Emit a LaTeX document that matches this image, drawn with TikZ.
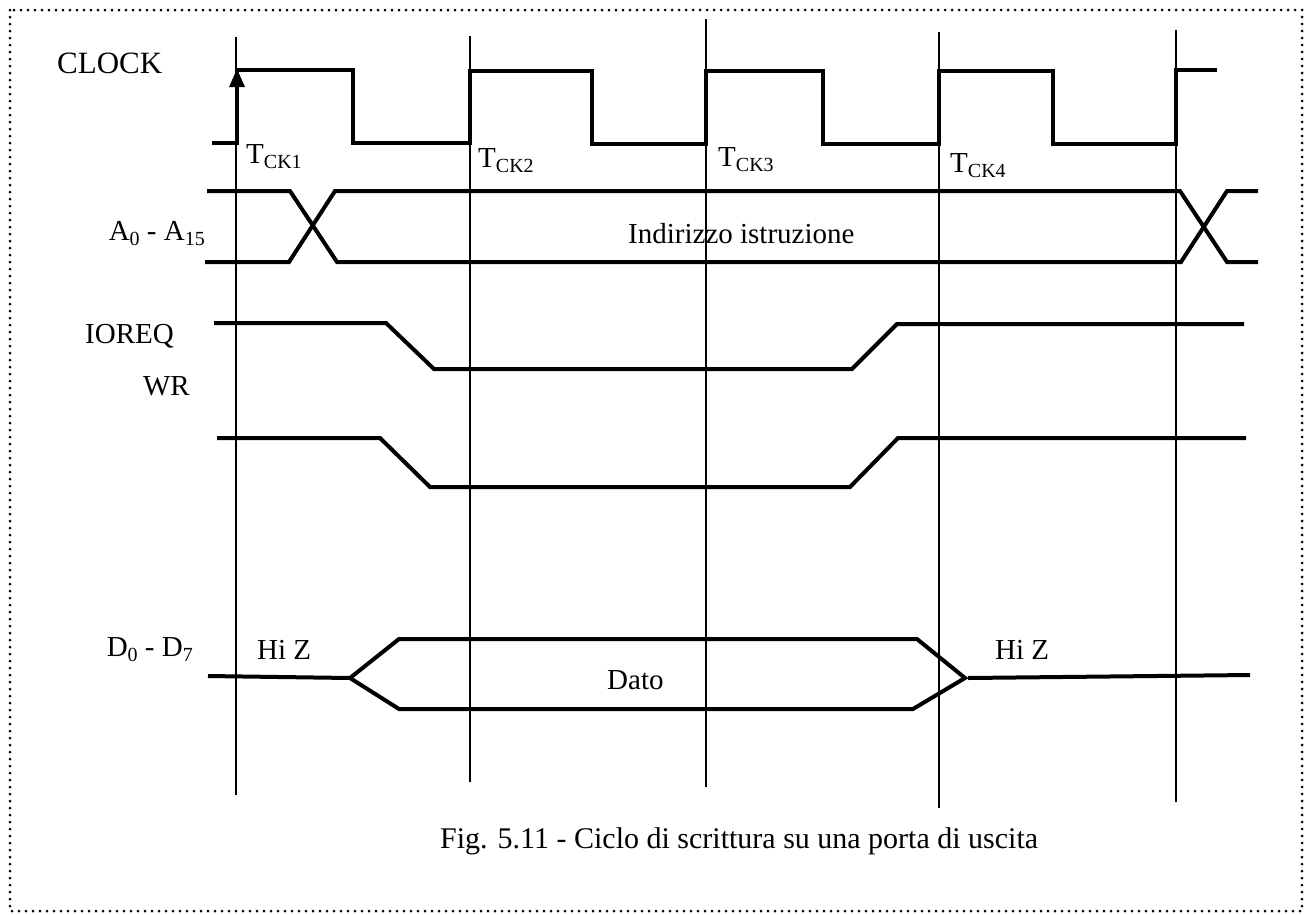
\documentclass[tikz,border=0pt]{standalone}
\usepackage{fontspec}
\setmainfont{Liberation Serif}
\usetikzlibrary{arrows.meta}
\newcommand\tsub[1]{\raisebox{-0.2em}{\fontsize{20}{20}\selectfont #1}}
\begin{document}
\begin{tikzpicture}[x=1pt,y=-1pt,
  sig/.style={line width=4pt, line join=miter},
  vgrid/.style={line width=1.5pt},
  lbl/.style={anchor=base west, inner sep=0pt, font=\fontsize{29}{29}\selectfont},
  rlbl/.style={anchor=base east, inner sep=0pt, font=\fontsize{29}{29}\selectfont}]
\useasboundingbox (0,0) rectangle (1310,914);
\draw[line width=3pt, dash pattern=on 0pt off 7pt, line cap=round] (10,10) rectangle (1302,911);
% vertical time markers
\draw[vgrid] (236,37) -- (236,795);
\draw[vgrid] (470,36) -- (470,782);
\draw[vgrid] (706,19) -- (706,787);
\draw[vgrid] (939,32) -- (939,808);
\draw[vgrid] (1176,30) -- (1176,802);
% clock
\draw[sig] (212,143) -- (237,143) -- (237,70) -- (353,70) -- (353,143) -- (470,143) -- (470,71) -- (592,71) -- (592,144) -- (706,144) -- (706,71) -- (823,71) -- (823,144) -- (939,144) -- (939,71) -- (1053,71) -- (1053,144) -- (1176,144) -- (1176,70) -- (1217,70);
\fill (237,69) -- (245,87) -- (229,87) -- cycle;
% address bus
\draw[sig] (207,191) -- (290,191) -- (337,262) -- (1181,262) -- (1227,191) -- (1258,191);
\draw[sig] (205,262) -- (289,262) -- (335,191) -- (1180,191) -- (1227,262) -- (1258,262);
% IOREQ
\draw[sig] (214,323) -- (386,323) -- (434,369) -- (852,369) -- (897,324) -- (1244,324);
% WR
\draw[sig] (217,438) -- (380,438) -- (430,487) -- (850,487) -- (898,438) -- (1246,438);
% data bus
\draw[sig] (208,676) -- (350,678);
\draw[sig] (350,678) -- (399,639) -- (917,639) -- (965,678) -- (913,709) -- (399,709) -- cycle;
\draw[sig] (968,678) -- (1250,675);
% labels
\node[lbl, font=\fontsize{31}{31}\selectfont] (clk) at (57,73) {CLOCK};
\node[lbl] (t1) at (246,163) {T\tsub{CK1}};
\node[lbl] (t2) at (478,167) {T\tsub{CK2}};
\node[lbl] (t3) at (718,166) {T\tsub{CK3}};
\node[lbl] (t4) at (950,172) {T\tsub{CK4}};
\node[rlbl] (a) at (205,240) {A\tsub{0} - A\tsub{15}};
\node[rlbl] (io) at (174,343) {IOREQ};
\node[rlbl] (wr) at (190,395) {WR};
\node[rlbl] (d) at (193,656) {D\tsub{0} - D\tsub{7}};
\node[lbl] (hz1) at (257,659) {Hi Z};
\node[lbl] (hz2) at (995,659) {Hi Z};
\node[lbl] (dato) at (607,689) {Dato};
\node[lbl] (ind) at (628,243) {Indirizzo istruzione};
\node[lbl, font=\fontsize{30}{30}\selectfont] (cap) at (440,848) {Fig. 5.11 - Ciclo di scrittura su una porta di uscita};
\end{tikzpicture}
\end{document}
